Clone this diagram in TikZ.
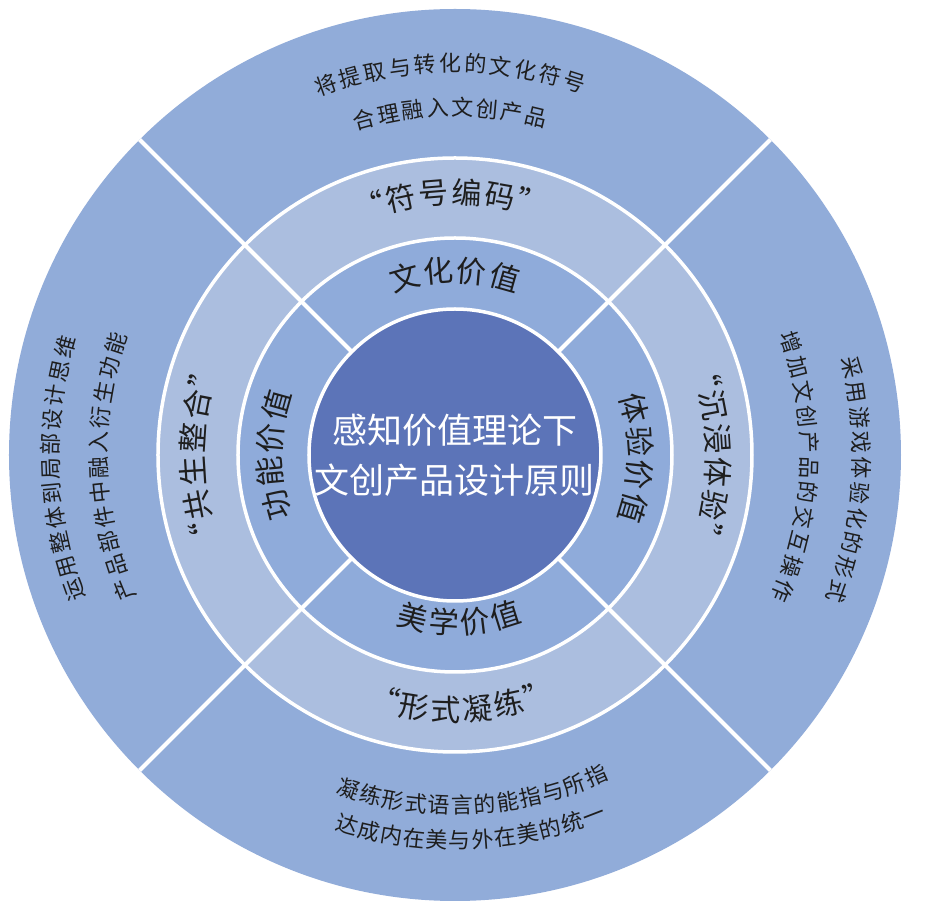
\documentclass[tikz,border=0pt]{standalone}
\usepackage{fontspec}
\newfontfamily\cjk{Noto Sans CJK SC}
\definecolor{ringA}{HTML}{91ACD9}
\definecolor{ringB}{HTML}{7F9ACC}
\definecolor{lightring}{HTML}{ABBEDF}
\definecolor{midring}{HTML}{8FABDA}
\definecolor{core}{HTML}{5C74B8}
\definecolor{ink}{HTML}{1E1E1E}
\pgfdeclareradialshading{outerring}{\pgfpoint{0bp}{0bp}}{color(0bp)=(ringA); color(33bp)=(ringA); color(50bp)=(ringB)}
\tikzset{
  sep/.style={draw=white, line width=3.5pt},
  ch/.style={inner sep=0pt, text height=0.88em, text depth=0.12em, text=ink},
}
% #1 name, #2 radius, #3 centre angle, #4 step (pt), #5 dir (1 = clockwise, tops out; -1 = ccw, tops in), #6 count, #7 font size, #8 list
\newcommand\arcrow[8]{%
  \pgfmathsetmacro\stepdeg{#4/#2*180/pi}%
  \foreach \c [count=\i] in {#8} {
    \pgfmathsetmacro\ang{#3 + #5*((#6+1)/2 - \i)*\stepdeg}
    \pgfmathsetmacro\rot{\ang - #5*90}
    \node[ch, font=\cjk\fontsize{#7}{#7}\selectfont, rotate=\rot] (#1\i) at (\ang:#2) {\c};
  }
}
% quotes around a row
\newcommand\arcquote[7]{%
  \pgfmathsetmacro\stepdeg{#4/#2*180/pi}%
  \pgfmathsetmacro\anga{#3 + #5*(#6/2)*\stepdeg}%
  \pgfmathsetmacro\rota{\anga - #5*90}%
  \pgfmathsetmacro\angb{#3 - #5*(#6/2)*\stepdeg}%
  \pgfmathsetmacro\rotb{\angb - #5*90}%
  \node[ch, font=\cjk\fontsize{#7}{#7}\selectfont, rotate=\rota, anchor=east] (#1qa) at (\anga:#2) {“};
  \node[ch, font=\cjk\fontsize{#7}{#7}\selectfont, rotate=\rotb, anchor=west] (#1qb) at (\angb:#2) {”};
}
\begin{document}
\begin{tikzpicture}[x=1pt,y=1pt]
\fill[white] (-455,-457) rectangle (472,455);
\useasboundingbox (-455,-457) rectangle (472,455);
\coordinate (O) at (0,0);
% rings
\shade[shading=outerring] (O) circle (446);
\fill[lightring] (O) circle (297);
\fill[midring] (O) circle (217);
\draw[sep] (O) circle (297);
\draw[sep] (O) circle (217);
\foreach \a in {45,135,225,315} \draw[sep, line width=4pt] (\a:146) -- (\a:446);
\fill[core] (O) circle (146);
\draw[sep] (O) circle (146);
% centre
\node[font=\cjk\fontsize{35}{50}\selectfont, text=white, align=center] (title) at (0,0) {感知价值理论下\\文创产品设计原则};
% inner ring (values)
\arcrow{wh}{177}{90}{32.5}{1}{4}{30}{文,化,价,值}
\arcrow{gn}{178}{180}{32.5}{1}{4}{30}{功,能,价,值}
\arcrow{ty}{178}{-1}{32.5}{1}{4}{30}{体,验,价,值}
\arcrow{mx}{175}{271.5}{32.5}{-1}{4}{30}{美,学,价,值}
% light ring (strategies)
\arcrow{fh}{255}{91}{32.5}{1}{4}{30}{符,号,编,码}
\arcquote{fh}{255}{91}{32.5}{1}{4}{30}
\arcrow{gs}{255}{180}{32.5}{1}{4}{30}{共,生,整,合}
\arcquote{gs}{255}{180}{32.5}{1}{4}{30}
\arcrow{cj}{256}{0}{32.5}{1}{4}{30}{沉,浸,体,验}
\arcquote{cj}{256}{0}{32.5}{1}{4}{30}
\arcrow{xs}{262}{271.5}{32.5}{-1}{4}{30}{形,式,凝,练}
\arcquote{xs}{262}{271.5}{32.5}{-1}{4}{30}
% outer ring
\arcrow{ta}{387}{90.7}{25}{1}{11}{22}{将,提,取,与,转,化,的,文,化,符,号}
\arcrow{tb}{343}{90.8}{24.6}{1}{8}{22}{合,理,融,入,文,创,产,品}
\arcrow{la}{400}{182}{24.5}{1}{11}{22}{运,用,整,体,到,局,部,设,计,思,维}
\arcrow{lb}{352}{182}{24.8}{1}{11}{22}{产,品,部,件,中,融,入,衍,生,功,能}
\arcrow{ra}{402}{-3.6}{25}{1}{10}{22}{采,用,游,戏,体,验,化,的,形,式}
\arcrow{rb}{350}{-2}{25}{1}{11}{22}{增,加,文,创,产,品,的,交,互,操,作}
\arcrow{ba}{355}{273}{23.3}{-1}{12}{22}{凝,练,形,式,语,言,的,能,指,与,所,指}
\arcrow{bb}{390}{272.4}{23.1}{-1}{12}{22}{达,成,内,在,美,与,外,在,美,的,统,一}
\end{tikzpicture}
\end{document}
